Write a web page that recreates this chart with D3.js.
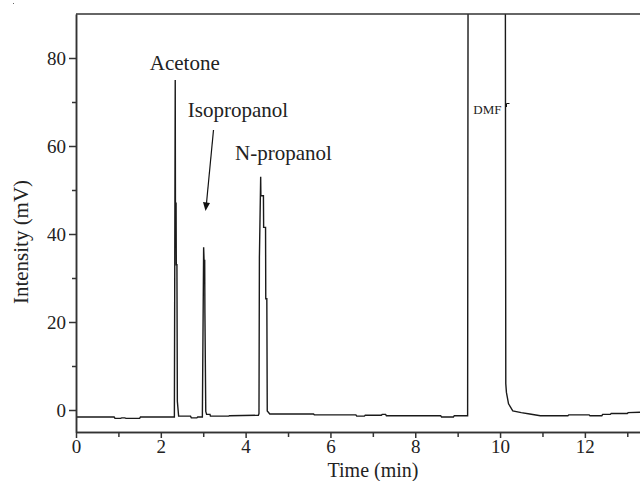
<!DOCTYPE html>
<html>
<head>
<meta charset="utf-8">
<script src="https://cdn.jsdelivr.net/npm/d3@7"></script>
<style>
  body { margin: 0; background: #fff; }
  svg { display: block; }
  text { font-family: "Liberation Serif", "DejaVu Serif", serif; fill: #222; }
</style>
</head>
<body>
<svg width="640" height="481"></svg>
<script>
// chromatogram trace (time in min, intensity in mV)
var times = [0, 0.9, 0.92, 1.05, 1.08, 1.15, 1.18, 1.5, 1.52, 2.32,
  2.34, 2.345, 2.36, 2.365, 2.38, 2.39, 2.42, 2.7, 2.72, 2.85, 2.87, 2.98,
  3.01, 3.02, 3.035, 3.04, 3.06, 3.08, 3.16, 3.17, 3.6, 3.62, 4.3,
  4.315, 4.325, 4.355, 4.36, 4.42, 4.425, 4.47, 4.475, 4.5, 4.51, 4.57,
  5.6, 5.62, 6.6, 6.62, 6.8, 6.82, 7.2, 7.22, 7.3, 7.32, 8.6, 8.62, 8.9, 8.92, 9.22,
  9.235, 9.25, 10.12, 10.135, 10.15, 10.2, 10.3, 10.5, 10.7, 10.95,
  11.6, 11.62, 12.1, 12.12, 12.4, 12.42, 12.6, 12.62, 13.0, 13.02, 13.3];
var intensity = [-1.6, -1.6, -1.9, -1.9, -1.8, -1.8, -1.9, -1.9, -1.6, -1.6,
  75, 47, 47, 33, 33, 2, -1.4, -1.4, -1.8, -1.8, -1.6, -1.6,
  37, 34, 34, 22, -0.3, -1.0, -1.0, -1.4, -1.4, -1.3, -1.2,
  -0.8, 34.7, 53, 48.7, 48.7, 41.5, 41.5, 25.3, 25.3, -0.2, -0.9,
  -0.9, -1.1, -1.1, -1.4, -1.4, -1.2, -1.2, -1.0, -1.0, -1.3, -1.3, -1.6, -1.6, -1.3, -1.3,
  -1.3, 140, 140, 6, 4, 1.4, -0.2, -0.6, -0.9, -1.3,
  -1.3, -1.1, -1.1, -1.3, -1.3, -1.0, -1.0, -0.8, -0.8, -0.6, -0.5];

var xTicks = [0, 2, 4, 6, 8, 10, 12];
var xMinor = [1, 3, 5, 7, 9, 11, 13];
var yTicks = [0, 20, 40, 60, 80];
var yMinor = [10, 30, 50, 70];

var peakLabels = [
  { name: "Acetone", t: 1.74, v: 77.2 },
  { name: "Isopropanol", t: 2.636, v: 66.6 },
  { name: "N-propanol", t: 3.75, v: 56.8 }
];

var svg = d3.select("svg");
var mLeft = 76, mRight = 640, mTop = 14, mBottom = 432;

var x = d3.scaleLinear().domain([0, 13.3]).range([mLeft, mRight]);
var y = d3.scaleLinear().domain([-5, 90]).range([mBottom, mTop]);

svg.append("clipPath").attr("id", "plot")
  .append("rect").attr("x", mLeft).attr("y", mTop)
  .attr("width", mRight - mLeft).attr("height", mBottom - mTop);

var data = times.map(function(t, i){ return [t, intensity[i]]; });

svg.append("path")
  .datum(data)
  .attr("clip-path", "url(#plot)")
  .attr("fill", "none")
  .attr("stroke", "#1a1a1a")
  .attr("stroke-width", 1.4)
  .attr("d", d3.line().x(function(d){ return x(d[0]); }).y(function(d){ return y(d[1]); }));

// axes
svg.append("g").attr("transform", "translate(0," + mBottom + ")")
  .call(d3.axisBottom(x).tickValues(xTicks).tickSize(6).tickSizeOuter(0).tickPadding(2));
svg.append("g").attr("transform", "translate(0," + mBottom + ")")
  .call(d3.axisBottom(x).tickValues(xMinor).tickSize(5).tickSizeOuter(0).tickFormat(""));
svg.append("g").attr("transform", "translate(" + mLeft + ",0)")
  .call(d3.axisLeft(y).tickValues(yTicks).tickSize(7).tickSizeOuter(0).tickPadding(3));
svg.append("g").attr("transform", "translate(" + mLeft + ",0)")
  .call(d3.axisLeft(y).tickValues(yMinor).tickSize(4).tickSizeOuter(0).tickFormat(""));

svg.selectAll(".domain, .tick line").attr("stroke", "#333").attr("stroke-width", 1.5);
svg.selectAll(".tick text").style("font-family", "Liberation Serif, serif")
  .style("font-size", "19px").attr("fill", "#222");

// top frame line
svg.append("line").attr("x1", mLeft).attr("x2", mRight).attr("y1", mTop).attr("y2", mTop)
  .attr("stroke", "#333").attr("stroke-width", 1.5);

// axis titles
svg.append("text").text("Time (min)")
  .attr("x", 373).attr("y", 477).attr("text-anchor", "middle")
  .style("font-size", "20px");
svg.append("text").text("Intensity (mV)")
  .attr("transform", "translate(28,242) rotate(-90)")
  .attr("text-anchor", "middle")
  .style("font-size", "21px");

// peak labels
svg.selectAll(".peak")
  .data(peakLabels)
  .enter()
  .append("text")
  .attr("class", "peak")
  .text(function(d){ return d.name; })
  .attr("x", function(d){ return x(d.t); })
  .attr("y", function(d){ return y(d.v); })
  .style("font-size", "21px");

svg.append("text").text("DMF")
  .attr("x", x(9.37)).attr("y", 114)
  .style("font-size", "13px");

// arrow to isopropanol peak
svg.append("line")
  .attr("x1", 213.5).attr("y1", 130).attr("x2", 206.5).attr("y2", 203)
  .attr("stroke", "#111").attr("stroke-width", 1.2);
svg.append("path")
  .attr("d", "M203,202 L210,203 L205.5,211 Z")
  .attr("fill", "#111");

// tiny mark near DMF tail
svg.append("path")
  .attr("d", "M506.5,107 L506.5,103.5 L509.5,103.5")
  .attr("fill", "none").attr("stroke", "#111").attr("stroke-width", 1);

svg.append("rect").attr("x", 13).attr("y", 3).attr("width", 1).attr("height", 1).attr("fill", "#666");
</script>
</body>
</html>
